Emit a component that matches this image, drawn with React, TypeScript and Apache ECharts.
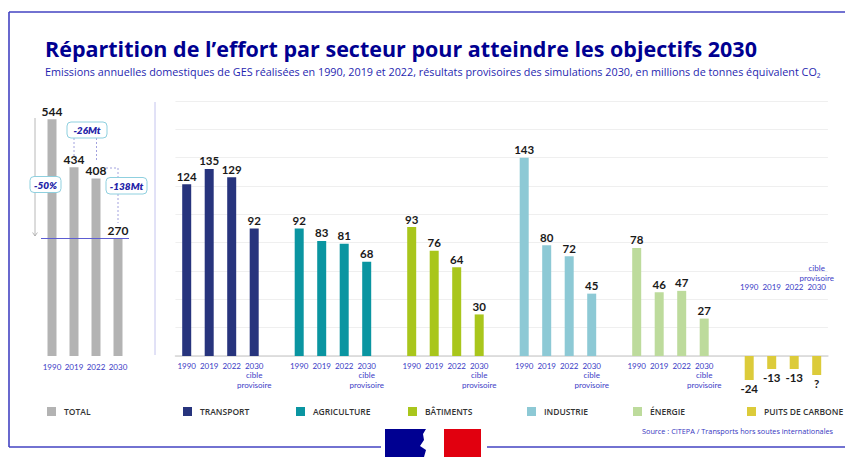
import React, { useEffect, useRef } from "react";
import * as echarts from "echarts";

const FONT = 'Lato, "Open Sans", "DejaVu Sans", sans-serif';
const TITLE_FONT = '"Open Sans", Lato, sans-serif';

// ---- data ----
const years = ["1990", "2019", "2022", "2030"];
const totalValues = [544, 434, 408, 270];
const totalTarget = 270;
const sectorNames = ["TRANSPORT", "AGRICULTURE", "BÂTIMENTS", "INDUSTRIE", "ÉNERGIE"];
const transport = [124, 135, 129, 92];
const agriculture = [92, 83, 81, 68];
const batiments = [93, 76, 64, 30];
const industrie = [143, 80, 72, 45];
const energie = [78, 46, 47, 27];
const puitsName = "PUITS DE CARBONE";
const puits = [-24, -13, -13, -19];
const puitsLabels = ["-24", "-13", "-13", "?"];
const totalName = "TOTAL";
const annotationLabels = ["-50%", "-26Mt", "-138Mt"];
const titleText = "Répartition de l’effort par secteur pour atteindre les objectifs 2030";
const subtitleText =
  "Emissions annuelles domestiques de GES réalisées en 1990, 2019 et 2022, résultats provisoires des simulations 2030, en millions de tonnes équivalent CO₂";
const sourceText = "Source : CITEPA / Transports hors soutes internationales";

// ---- styles ----
const sectorValues = [transport, agriculture, batiments, industrie, energie];
const sectorColors = ["#27347d", "#0a95a1", "#a9c61c", "#8dc9d5", "#bddb9c"];
const totalColor = "#b3b3b3";
const puitsColor = "#dccb3a";
const yearColor = "#3b3bc6";
const navy = "#000091";

const SLOT = 22.5;
const slotsPerSector = years.length + 1;
const mainCats: string[] = [];
const mainLabels: string[] = [];
sectorNames.forEach((n, i) => {
  years.forEach((y, j) => {
    mainCats.push(n + " " + y);
    mainLabels.push(j === 3 ? y + "\ncible\nprovisoire" : y);
  });
  mainCats.push("gap" + i);
  mainLabels.push("");
});
years.forEach((y) => {
  mainCats.push("PUITS " + y);
  mainLabels.push("");
});

function sectorData(i: number) {
  const d: (number | null)[] = mainCats.map(() => null);
  sectorValues[i].forEach((v, j) => {
    d[i * slotsPerSector + j] = v;
  });
  return d;
}

const valueLabel = {
  show: true,
  position: "top" as const,
  distance: 2,
  fontSize: 11.5,
  fontWeight: "bold" as const,
  color: "#1a1a1a",
  fontFamily: FONT,
};

const yearLabelStyle = {
  color: yearColor,
  fontSize: 8,
  lineHeight: 9.5,
  fontFamily: FONT,
  interval: 0,
};

function box(x: number, y: number, w: number, h: number, text: string) {
  return [
    {
      type: "rect",
      z: 20,
      shape: { x, y, width: w, height: h, r: 4 },
      style: { fill: "#ffffff", stroke: "#8fd0df", lineWidth: 1 },
    },
    {
      type: "text",
      z: 21,
      style: {
        text,
        x: x + w / 2,
        y: y + h / 2,
        align: "center",
        verticalAlign: "middle",
        fill: "#2424a8",
        font: `italic 800 10px ${FONT}`,
      },
    },
  ];
}

const dash = { stroke: "#8a8ad6", lineWidth: 0.8, lineDash: [2, 2] };

export default function App() {
  const ref = useRef<HTMLDivElement>(null);
  useEffect(() => {
    if (!ref.current) return;
    const chart = echarts.init(ref.current, undefined, { renderer: "svg" });
    const mainLeft = 175.45;
    const option: any = {
      animation: false,
      backgroundColor: "#ffffff",
      textStyle: { fontFamily: FONT },
      title: {
        text: titleText,
        subtext: subtitleText,
        left: 45,
        top: 37,
        padding: 0,
        itemGap: 7,
        textStyle: { fontSize: 21.5, fontWeight: "bold", color: navy, fontFamily: TITLE_FONT },
        subtextStyle: { fontSize: 10.8, color: "#1f1fb0", fontFamily: TITLE_FONT },
      },
      grid: [
        { left: mainLeft, top: 101, width: SLOT * mainCats.length, height: 255, outerBoundsMode: "none" },
        { left: 41, top: 101, width: 88, height: 255, outerBoundsMode: "none" },
        { left: mainLeft + SLOT * (5 * slotsPerSector), top: 300, width: SLOT * 4, height: 100, outerBoundsMode: "none" },
      ],
      xAxis: [
        {
          gridIndex: 0,
          type: "category",
          data: mainCats,
          axisTick: { show: false },
          axisLine: { lineStyle: { color: "#d6d6d6", width: 1.5 } },
          axisLabel: { ...yearLabelStyle, margin: 5, formatter: (_v: string, idx: number) => mainLabels[idx] },
        },
        {
          gridIndex: 1,
          type: "category",
          data: years,
          axisTick: { show: false },
          axisLine: { show: false },
          axisLabel: { ...yearLabelStyle, margin: 6 },
        },
        {
          gridIndex: 2,
          type: "category",
          data: years,
          position: "top",
          axisTick: { show: false },
          axisLine: { show: false, onZero: true },
          axisLabel: {
            ...yearLabelStyle,
            margin: 8,
            formatter: (v: string, idx: number) => (idx === 3 ? "cible\nprovisoire\n" + v : v),
          },
        },
      ],
      yAxis: [
        {
          gridIndex: 0,
          type: "value",
          min: 0,
          max: 184,
          interval: 184 / 9,
          axisLabel: { show: false },
          axisLine: { show: false },
          axisTick: { show: false },
          splitLine: { lineStyle: { color: "#efefef", width: 1 } },
        },
        { gridIndex: 1, type: "value", min: 0, max: 586, show: false, splitLine: { show: false } },
        { gridIndex: 2, type: "value", min: -44, max: 56, show: false, splitLine: { show: false } },
      ],
      legend: [
        { name: totalName, left: 47 },
        { name: sectorNames[0], left: 183 },
        { name: sectorNames[1], left: 296 },
        { name: sectorNames[2], left: 408 },
        { name: sectorNames[3], left: 527 },
        { name: sectorNames[4], left: 633 },
        { name: puitsName, left: 747 },
      ].map((l) => ({
        data: [l.name],
        left: l.left,
        top: 407,
        padding: 0,
        itemWidth: 9,
        itemHeight: 9,
        icon: "rect",
        selectedMode: false,
        textStyle: { fontSize: 8.5, color: "#333333", fontWeight: 600, fontFamily: TITLE_FONT, padding: [0, 0, 0, 3] },
      })),
      series: [
        {
          name: totalName,
          type: "bar",
          xAxisIndex: 1,
          yAxisIndex: 1,
          data: totalValues,
          barWidth: 9,
          itemStyle: { color: totalColor },
          label: { ...valueLabel, fontSize: 12 },
          markLine: {
            silent: true,
            symbol: ["none", "none"],
            label: { show: false },
            lineStyle: { color: "#5d5dd2", width: 1, type: "solid" },
            data: [{ yAxis: totalTarget }],
          },
        },
        ...sectorNames.map((n, i) => ({
          name: n,
          type: "bar",
          xAxisIndex: 0,
          yAxisIndex: 0,
          data: sectorData(i),
          barWidth: 9,
          barGap: "-100%",
          itemStyle: { color: sectorColors[i] },
          label: valueLabel,
        })),
        {
          name: puitsName,
          type: "bar",
          xAxisIndex: 2,
          yAxisIndex: 2,
          data: puits,
          barWidth: 9,
          clip: false,
          itemStyle: { color: puitsColor },
          label: {
            ...valueLabel,
            position: "bottom",
            formatter: (p: any) => puitsLabels[p.dataIndex],
          },
        },
      ],
      graphic: [
        // frame
        { type: "line", z: 5, shape: { x1: 9, y1: 12, x2: 9, y2: 447 }, style: { stroke: "#4343c2", lineWidth: 1.6 } },
        { type: "line", z: 5, shape: { x1: 9, y1: 12, x2: 845, y2: 12 }, style: { stroke: "#4343c2", lineWidth: 1.6 } },
        { type: "line", z: 5, shape: { x1: 9, y1: 447, x2: 381, y2: 447 }, style: { stroke: "#4343c2", lineWidth: 1.6 } },
        { type: "line", z: 5, shape: { x1: 487, y1: 447, x2: 845, y2: 447 }, style: { stroke: "#4343c2", lineWidth: 1.6 } },
        // separator
        { type: "line", z: 5, shape: { x1: 155, y1: 102, x2: 155, y2: 355 }, style: { stroke: "#c4c4ee", lineWidth: 1 } },
        // arrow
        { type: "line", z: 5, shape: { x1: 35, y1: 118, x2: 35, y2: 236 }, style: { stroke: "#a6a6a6", lineWidth: 0.8 } },
        { type: "polyline", z: 5, shape: { points: [[32.6, 232.5], [35, 236], [37.4, 232.5]] }, style: { stroke: "#a6a6a6", lineWidth: 0.8, fill: null } },
        // dashed connectors
        { type: "line", z: 5, shape: { x1: 74, y1: 138, x2: 74, y2: 156 }, style: dash },
        { type: "line", z: 5, shape: { x1: 96.5, y1: 138, x2: 96.5, y2: 162 }, style: dash },
        { type: "polyline", z: 5, shape: { points: [[106, 168], [118, 168], [118, 178]] }, style: { ...dash, fill: null } },
        { type: "line", z: 5, shape: { x1: 118, y1: 194, x2: 118, y2: 223 }, style: dash },
        ...box(30, 176.5, 31, 16, annotationLabels[0]),
        ...box(67, 122, 40, 16, annotationLabels[1]),
        ...box(106, 177.5, 41, 16.5, annotationLabels[2]),
        // source
        {
          type: "text",
          z: 5,
          style: { text: sourceText, x: 642, y: 431, verticalAlign: "middle", fill: "#3535c0", font: `7.3px ${TITLE_FONT}` },
        },
        // logo
        { type: "rect", z: 5, shape: { x: 385, y: 429, width: 45, height: 28 }, style: { fill: navy } },
        { type: "rect", z: 5, shape: { x: 444, y: 429, width: 37, height: 28 }, style: { fill: "#e1000f" } },
        {
          type: "polygon",
          z: 6,
          shape: {
            points: [[426, 429], [434, 429], [440, 433], [443, 440], [441, 446], [444, 450], [440, 457], [424, 457], [426, 450], [420, 446], [424, 440], [423, 434]],
          },
          style: { fill: "#ffffff" },
        },
      ],
    };
    chart.setOption(option);
    return () => chart.dispose();
  }, []);
  return (
    <div
      ref={ref}
      style={{ position: "fixed", left: 0, top: 0, width: 845, height: 457, background: "#ffffff" }}
    />
  );
}
